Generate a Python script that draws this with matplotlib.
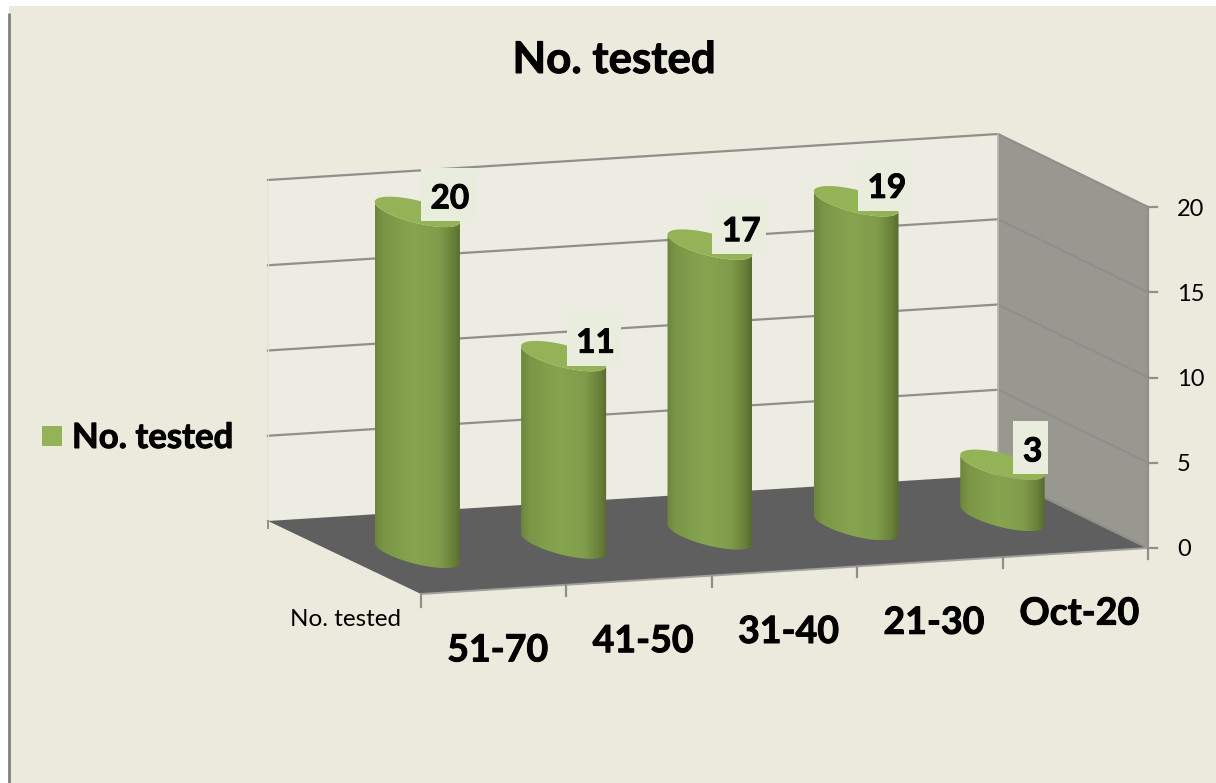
import numpy as np
import matplotlib
matplotlib.use("Agg")
import matplotlib.pyplot as plt
import matplotlib.patheffects as pe
from matplotlib.colors import LinearSegmentedColormap
from matplotlib.patches import Polygon, Rectangle

# Chart data
categories = ["51-70", "41-50", "31-40", "21-30", "Oct-20"]
values = [20, 11, 17, 19, 3]
value_ticks = [0, 5, 10, 15, 20]
series_name = "No. tested"

plt.rcParams["font.family"] = ["Lato", "DejaVu Sans"]

BG = "#ebeadd"
WALL = "#edece2"
SIDE = "#989890"
FLOOR = "#5f5f5f"
GRID = "#8f8f8c"
TOP = "#93b356"
LABEL_BG = "#e9eddd"

fig = plt.figure(figsize=(12.16, 7.83), dpi=100, facecolor="white")
ax = fig.add_axes([0, 0, 1, 1])
ax.set_xlim(0, 1216)
ax.set_ylim(783, 0)
ax.axis("off")

# Slightly heavier bold strokes for the headline-style text
HEAVY = [pe.withStroke(linewidth=0.7, foreground="black")]


def project(c, d, v):
    """Oblique projection of (category, depth, value) onto the canvas."""
    c, d, v = np.asarray(c, float), np.asarray(d, float), np.asarray(v, float)
    return (421 + 145.4 * c - 153 * d + 0.6 * c * d, 594 - 9.2 * c - 73 * d - 17.05 * v)


def pts(*triples):
    return np.array([project(*t) for t in triples])


vmax = max(value_ticks)
n = len(categories)

# Slide background and the thin rule on its left
ax.add_patch(Rectangle((9, 6), 1207, 777, fc=BG, ec="none", zorder=0))
ax.plot([9, 9], [13, 783], color="#808080", lw=2, solid_capstyle="butt", zorder=1)

# Chart box: back wall, side wall, floor
ax.add_patch(Polygon(pts((0, 1, 0), (n, 1, 0), (n, 1, vmax), (0, 1, vmax)), fc=WALL, ec="none", zorder=1))
ax.add_patch(Polygon(pts((n, 1, 0), (n, 0, 0), (n, 0, vmax), (n, 1, vmax)), fc=SIDE, ec="none", zorder=1))
ax.add_patch(Polygon(pts((0, 0, 0), (n, 0, 0), (n, 1, 0), (0, 1, 0)), fc=FLOOR, ec="none", zorder=1))

# Gridlines run along the back wall and then down the side wall
for v in value_ticks:
    line = pts((0, 1, v), (n, 1, v), (n, 0, v))
    if v == 0:
        line = pts((n, 1, v), (n, 0, v))
    ax.plot(line[:, 0], line[:, 1], color=GRID, lw=1.6, zorder=2)
edge = pts((n, 1, 0), (n, 1, vmax))
ax.plot(edge[:, 0], edge[:, 1], color="#b5b5ae", lw=1.2, zorder=2)
edge = pts((n, 0, 0), (n, 0, vmax))
ax.plot(edge[:, 0], edge[:, 1], color=GRID, lw=1.6, zorder=2)
edge = pts((0, 1, 0), (0, 1, vmax))
ax.plot(edge[:, 0], edge[:, 1], color="#e2e2d8", lw=0.8, zorder=2)
edge = pts((0, 0, 0), (n, 0, 0))
ax.plot(edge[:, 0], edge[:, 1], color="#a0a09c", lw=1.4, zorder=2)

# Value axis ticks and labels
for v in value_ticks:
    x, y = project(n, 0, v)
    ax.plot([x, x + 9], [y, y], color=GRID, lw=1.6, zorder=2)
    ax.text(x + 29, y + 2, str(v), fontsize=17, color="black", va="center", ha="left", zorder=6)

# Category ticks along the front edge, depth ticks on the left
for i in range(n + 1):
    x, y = project(i, 0, 0)
    ax.plot([x, x], [y, y + (13 if i == 0 else 11)], color=GRID, lw=1.6, zorder=2)
x, y = project(0, 1, 0)
ax.plot([x, x], [y, y + 7], color=GRID, lw=1.4, zorder=2)

for i, name in enumerate(categories):
    x, y = project(i + 0.5, 0, 0)
    ax.text(x + 4, y + 61, name, fontsize=27, fontweight="bold", ha="center", va="center",
            path_effects=HEAVY, zorder=6)

ax.text(345, 620, series_name, fontsize=17.5, ha="center", va="center", zorder=6)

# Cylinders
shade = LinearSegmentedColormap.from_list(
    "cyl",
    [(0.0, "#6d853c"), (0.1, "#7a9646"), (0.45, "#87a550"), (0.75, "#7f9c4a"),
     (0.92, "#687f38"), (1.0, "#586b30")],
)
RC, RD = 0.196, 0.207
theta = np.linspace(0, 2 * np.pi, 181)

for i, val in enumerate(values):
    # bars sit a touch wider apart than the ticks, as a perspective view does
    c0 = i + 0.5 + 0.004 * i
    d0 = 0.5
    ax_x = 145.4 * RC
    bx_x = -153 * RD
    t_right = np.arctan2(bx_x, ax_x)
    # half of the rim that faces the viewer, right extreme to left extreme
    t_low = np.linspace(t_right, t_right - np.pi, 60)
    if np.mean(project(c0 + RC * np.cos(t_low), d0 + RD * np.sin(t_low), 0)[1]) < \
            np.mean(project(c0 + RC * np.cos(t_low + np.pi), d0 + RD * np.sin(t_low + np.pi), 0)[1]):
        t_low = t_low + np.pi
    cc, dd = c0 + RC * np.cos(t_low), d0 + RD * np.sin(t_low)
    tx, ty = project(cc, dd, val)
    bx, by = project(cc, dd, 0)
    outline = np.r_[np.c_[tx, ty], np.c_[bx, by][::-1]]
    body = Polygon(outline, closed=True, transform=ax.transData, fc="none", ec="none", zorder=3)
    ax.add_patch(body)
    im = ax.imshow(
        np.linspace(0, 1, 256).reshape(1, -1), cmap=shade, vmin=0, vmax=1, aspect="auto",
        extent=[bx.min(), bx.max(), by.max(), ty.min() - 1], zorder=3, interpolation="bilinear",
    )
    im.set_clip_path(body)
    rx, ry = project(c0 + RC * np.cos(theta), d0 + RD * np.sin(theta), val)
    ax.add_patch(Polygon(np.c_[rx, ry], closed=True, fc=TOP, ec="none", zorder=4))

    # Value label on a pale box, offset from the top of the cylinder
    cx, cy = project(i + 0.5, d0, val)
    lx, ly = cx + 32.5, cy - 14
    half = 27 if len(str(val)) > 1 else 17.5
    ax.add_patch(Rectangle((lx - 2 - half, ly - 3 - 26.5), 2 * half, 53, fc=LABEL_BG, ec="none", zorder=5))
    ax.text(lx, ly + 1, str(val), fontsize=24, fontweight="bold", ha="center", va="center",
            path_effects=HEAVY, zorder=6)

ax.set_xlim(0, 1216)
ax.set_ylim(783, 0)

# Title and legend
ax.text(614, 60, series_name, fontsize=31.5, fontweight="bold", ha="center", va="center",
        path_effects=HEAVY, zorder=6)
ax.add_patch(Rectangle((42, 426), 20, 20, fc=TOP, ec="none", zorder=6))
ax.text(72, 438, series_name, fontsize=25, fontweight="bold", ha="left", va="center",
        path_effects=HEAVY, zorder=6)

fig.savefig("out.png", dpi=100, facecolor=fig.get_facecolor())
